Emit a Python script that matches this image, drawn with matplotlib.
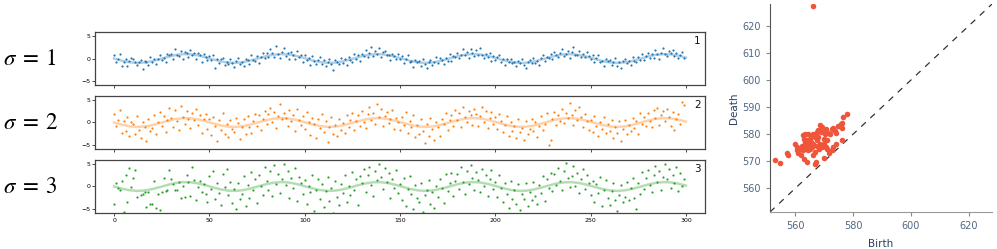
import numpy as np
import matplotlib
matplotlib.use("Agg")
import matplotlib.pyplot as plt

plt.rcParams['mathtext.fontset'] = 'stix'

# smooth underlying signal, read every 4 steps
curve_x = list(range(0, 301, 4))
curve_y = [0.0, -0.48, -0.84, -1.0, -0.91, -0.6, -0.14, 0.35, 0.76, 0.98,
           0.96, 0.71, 0.28, -0.22, -0.66, -0.94, -0.99, -0.8, -0.41, 0.08,
           0.54, 0.88, 1.0, 0.88, 0.54, 0.07, -0.42, -0.8, -0.99, -0.94,
           -0.65, -0.21, 0.29, 0.71, 0.96, 0.98, 0.75, 0.34, -0.15, -0.61,
           -0.91, -1.0, -0.84, -0.47, 0.01, 0.49, 0.85, 1.0, 0.91, 0.59,
           0.13, -0.36, -0.76, -0.98, -0.96, -0.7, -0.27, 0.22, 0.66, 0.94,
           0.99, 0.79, 0.4, -0.08, -0.55, -0.88, -1.0, -0.87, -0.53, -0.06,
           0.43, 0.81, 0.99, 0.93, 0.64, 0.2]

# noisy samples, one per step
noisy_1 = [0.8, -0.7, 0.0, 1.0, -1.7, -0.9, -0.2, -1.7, -0.6, 0.2,
           -0.1, -0.9, -1.4, -0.8, -0.3, -2.3, -0.5, -0.9, -1.4, 0.3,
           -0.8, 0.0, -1.3, 0.0, 0.7, -0.4, 0.2, -0.8, 1.0, 0.7,
           1.0, 0.0, 2.1, 0.8, 0.6, 1.8, -0.1, 1.5, 1.2, 0.4,
           2.0, 0.7, 1.2, 0.0, 1.3, 0.7, -0.9, 1.1, 0.3, -0.3,
           0.6, -0.4, 0.7, -2.2, -0.2, -1.0, -0.2, 0.2, -1.5, -0.8,
           -1.3, -0.2, -1.0, -2.0, -0.5, 0.2, -1.2, -0.7, -1.7, -0.1,
           -0.3, -1.3, 0.7, -0.3, -0.6, 0.6, -1.1, 0.4, 1.2, 0.1,
           1.3, 0.4, 2.1, 1.2, 0.3, 2.9, 1.1, 0.1, 1.5, 2.3,
           0.5, 1.2, -0.1, 1.4, 0.9, 0.0, 1.6, 0.3, 0.8, -0.7,
           0.8, -0.4, 0.1, -1.4, 0.5, -0.5, -1.2, -0.3, 0.4, -1.2,
           -0.4, -1.8, -0.7, 0.0, -1.2, -2.5, -0.4, -0.8, -1.3, 0.2,
           -1.0, -0.2, -1.5, 0.4, -0.3, -0.7, 1.1, -0.1, 0.8, -0.5,
           1.1, 0.5, 1.9, 0.3, 1.2, 2.5, 0.6, 1.8, 1.0, 2.4,
           0.3, 1.4, 1.8, 0.7, 0.9, -0.3, 1.1, 0.5, -0.2, 1.1,
           -0.2, 0.6, -1.0, 0.0, 0.7, -0.9, -0.5, -2.0, -0.3, -0.9,
           -0.5, -1.6, -0.1, -1.2, -2.2, -0.7, -0.3, -1.4, -0.9, 0.3,
           -1.1, 0.2, -0.3, -1.3, 0.2, -0.5, 1.0, -0.5, 0.5, 0.4,
           1.2, 0.1, 0.9, 2.1, 0.7, 1.4, 0.2, 2.1, 1.3, 0.6,
           1.9, 0.8, 2.4, 0.9, 0.2, 1.1, 0.3, 1.3, -0.6, 0.5,
           -0.3, 0.4, 0.9, -0.9, -0.2, -1.5, -0.2, -0.7, -0.1, -1.1,
           -0.7, -1.6, -0.5, -1.1, 0.0, -1.4, -2.2, -0.7, -0.3, -1.0,
           0.1, -1.0, -0.5, -1.4, 0.1, 0.9, -0.6, 0.3, 0.1, 1.0,
           -0.2, 1.5, 0.8, 0.4, 1.3, 2.1, 0.5, 1.1, 1.7, 0.1,
           1.4, 2.6, 0.7, 0.9, 1.7, 0.3, 1.0, 0.4, 1.5, 0.5,
           -0.2, 0.7, -0.8, 0.1, 0.7, -0.7, -0.5, -1.6, -0.2, -0.5,
           -0.3, -1.4, -0.9, 0.2, -1.7, -0.7, -2.1, -0.6, -0.1, -1.1,
           -0.5, -1.5, 0.3, -0.5, -0.8, 0.4, -0.4, 1.0, -0.4, 0.5,
           1.2, 0.2, 1.1, 0.1, 1.9, 1.0, 0.0, 1.3, 2.3, 1.0,
           0.6, 1.7, 1.2, 1.9, 0.6, 1.3, 0.1, 0.7, 1.4, 0.2]

noisy_2 = [1.9, -0.8, 0.6, 2.8, -2.3, 0.4, -1.9, 1.2, -3.1, 0.1,
           -0.4, -2.6, 1.5, -1.8, -3.4, 0.2, -1.1, -4.2, 0.9, -2.0,
           -1.3, 1.8, -2.7, 0.0, 2.3, -0.9, 1.4, -2.1, 0.6, 3.2,
           1.1, -1.0, 2.9, 0.4, -1.6, 3.7, 1.2, -0.3, 2.5, 0.8,
           -1.2, 2.2, 0.5, 3.1, -0.6, 1.7, -2.4, 0.9, 2.0, -1.5,
           0.7, -2.9, 1.3, -0.8, -4.1, 0.5, -1.7, 2.1, -2.5, -0.3,
           -3.3, 0.6, -1.4, -2.2, 1.0, -0.2, -3.8, -1.0, 0.8, -2.6,
           1.4, -1.1, -2.4, 0.3, 2.0, -0.7, 1.6, -1.8, 0.9, 2.7,
           -0.4, 1.9, 3.3, 0.2, 2.4, -1.3, 1.5, 4.1, 0.7, 2.1,
           1.0, -0.9, 2.8, 0.3, 1.7, -1.9, 3.0, 0.5, -0.6, 1.4,
           -1.5, 2.3, 0.1, -2.8, 1.1, -0.4, -3.6, 0.7, -1.2, 2.0,
           -2.1, 0.4, -4.4, -1.0, 1.3, -2.7, -0.5, -3.1, 0.9, -1.6,
           -0.2, -2.4, 1.6, -1.1, 0.5, 2.2, -1.8, 0.3, 1.8, -0.7,
           2.6, 0.1, -1.3, 1.9, 3.5, 0.6, 2.2, -0.4, 4.2, 1.3,
           3.0, -0.8, 1.5, 2.3, -0.2, 0.9, 2.8, -1.4, 1.1, 0.0,
           -1.7, 1.2, -0.5, 2.4, -2.3, 0.3, -1.0, 1.7, -3.2, -0.6,
           -2.5, 0.8, -1.9, -4.6, -0.3, -3.0, 1.1, -1.4, -3.9, 0.2,
           -1.0, -3.1, 0.9, -0.4, 2.1, -1.6, 0.5, 1.8, -0.9, 2.9,
           0.6, 2.2, -1.1, 3.6, 1.2, 0.0, 2.7, 1.6, -0.5, 3.1,
           2.0, -0.7, 1.4, 3.4, 0.2, 2.5, -1.2, 1.0, 2.3, -0.4,
           1.3, -1.5, 2.0, 0.4, -2.2, -0.6, 1.5, -3.0, 0.1, -1.9,
           -0.8, -3.4, 0.7, -2.1, -1.2, -4.0, 0.3, -2.6, -1.5, 0.8,
           -2.0, 0.2, -3.3, -0.9, 1.4, -1.7, -0.3, 2.1, -5.2, -4.0,
           0.9, 2.4, -0.5, 1.6, 0.3, 3.0, -0.2, 2.2, 1.1, 4.4,
           1.7, -0.6, 2.9, 0.5, 3.6, 1.2, -1.0, 2.0, 0.4, -1.8,
           0.6, -2.2, 1.5, -0.7, -3.1, 0.2, -1.5, 1.3, -2.4, -0.4,
           -1.9, 0.5, -3.6, -1.0, -2.3, 0.3, -4.3, -1.4, 0.6, -2.7,
           -0.6, -2.0, 1.0, -1.2, 0.4, -2.5, 2.2, -0.3, 1.3, -0.9,
           2.1, 0.3, -1.1, 2.8, 1.0, 3.3, -0.5, 1.8, 2.6, 0.4,
           3.1, 1.2, -0.8, 2.3, -1.6, 0.9, 2.0, -0.4, 4.6, 3.9]

noisy_3 = [-3.9, 0.9, -0.4, -0.9, 1.3, -5.8, 2.7, -3.6, 4.1, -0.1,
           2.0, 3.8, -2.3, -6.2, -1.9, -1.8, -1.3, -4.7, -1.2, -4.0,
           -3.9, 1.2, -4.9, -1.6, -5.3, -1.3, 2.0, -1.0, -0.7, 3.8,
           1.8, 0.6, -0.9, -0.9, 1.0, -2.7, 0.2, -2.4, 2.7, 1.0,
           -2.2, 4.5, 1.5, -3.1, -0.2, 1.2, -1.3, 0.5, -1.6, -3.4,
           2.4, -0.6, 3.6, -2.8, 0.9, -1.5, -4.1, 2.8, -0.2, 3.9,
           -2.0, 1.1, -3.7, -0.5, -5.1, 0.8, -2.9, -1.6, 2.3, -4.4,
           0.4, -2.5, 3.2, -0.8, 1.6, -3.8, 2.5, 0.0, -1.9, 4.3,
           1.2, -0.9, 3.5, -2.2, 4.8, 0.6, 2.9, -1.4, 1.8, 5.1,
           0.3, 3.6, -2.6, 1.9, -0.4, 4.2, -3.3, 2.2, 0.7, -1.8,
           1.5, -3.9, 0.2, -1.3, 2.6, -5.5, -0.8, 1.7, -2.8, 0.5,
           -4.6, -1.0, 2.1, -3.2, -0.3, -6.0, 1.3, -2.4, -4.1, 0.6,
           -1.5, 2.6, -3.5, 0.1, -2.0, 3.3, -0.9, 1.8, -4.2, 2.4,
           0.8, 3.9, -1.2, 2.7, 4.5, 0.3, -2.1, 3.4, 1.5, 5.0,
           2.2, -0.6, 4.1, 1.0, 3.0, -2.5, 1.7, -0.3, 3.8, -1.4,
           0.6, -3.1, 1.9, -4.4, -0.5, 2.3, -1.8, -5.0, 0.4, -2.6,
           -3.5, 0.9, -5.7, -2.0, -0.7, 1.4, -3.9, -1.3, -4.8, 0.2,
           -2.3, 1.6, -0.4, -3.7, 2.8, -1.0, 0.8, 3.1, -2.2, 1.3,
           2.9, -0.5, 4.4, 1.1, -1.7, 3.5, 0.6, 4.9, 2.0, -0.9,
           3.3, 1.4, -1.2, 4.0, 0.2, 2.6, -2.1, 1.8, 3.7, -0.6,
           1.0, -2.4, 2.5, -0.3, -3.6, 0.7, -1.6, -4.9, 1.2, -2.8,
           -0.9, -3.9, 0.5, -5.3, -1.8, -2.9, 0.9, -4.4, -1.2, -3.1,
           1.1, -2.2, -4.0, 0.3, -1.5, 2.4, -3.3, 1.6, -0.4, 3.0,
           -1.1, 2.8, 0.4, 4.2, 1.3, -0.8, 3.6, 5.3, 1.9, -0.2,
           2.4, 4.6, 0.1, 3.1, -1.5, 1.8, 4.0, -0.6, 2.7, 0.9,
           -2.0, 1.2, -3.4, 0.5, -1.4, 2.2, -4.5, -0.7, 1.5, -2.6,
           -4.2, -1.0, 0.7, -3.0, -5.6, -1.9, 0.4, -3.6, -2.3, 1.0,
           -3.0, -0.3, 2.0, -2.7, -5.1, 0.9, -1.6, 3.2, -0.5, 1.9,
           3.8, 0.4, -1.3, 2.5, 4.7, 1.0, 3.4, -0.8, 2.2, 5.2,
           1.6, 3.9, -0.4, 2.7, 0.8, 4.5, -1.1, 3.0, 0.0, 1.8]

series = [noisy_1, noisy_2, noisy_3]
sigmas = [1, 2, 3]
colors = ['#1f77b4', '#ff7f0e', '#2ca02c']

# persistence diagram points
birth = [566.0, 552.9, 554.8, 557.1, 557.4, 560.0, 560.8, 561.1, 562.1, 562.6,
         563.1, 564.0, 562.6, 563.4, 564.6, 564.0, 563.4, 564.6, 565.2, 565.7,
         566.3, 566.9, 567.5, 568.0, 568.6, 569.2, 569.0, 570.0, 570.3, 570.7,
         571.5, 572.6, 573.4, 574.1, 574.9, 575.8, 576.2, 576.6, 578.0, 576.3,
         576.1, 574.1, 573.2, 572.6, 571.8, 570.9, 570.1, 569.2, 568.4, 567.7,
         566.9, 566.3, 567.2, 567.0, 565.7, 565.2, 564.6, 564.0, 563.4, 562.9,
         565.4, 566.1, 567.5, 568.0, 569.8, 571.1, 572.0, 573.0, 573.8, 575.3,
         569.8, 568.6, 570.7, 561.7, 562.3, 560.8]
death = [627.3, 570.4, 569.2, 573.1, 572.5, 576.3, 574.1, 573.1, 572.2, 574.1,
         571.0, 569.7, 579.6, 580.2, 580.2, 577.8, 575.9, 576.5, 578.4, 579.6,
         580.2, 579.0, 580.8, 581.4, 583.3, 582.7, 580.8, 580.8, 580.2, 582.0,
         580.4, 582.0, 581.4, 580.4, 582.9, 583.6, 584.2, 586.3, 587.3, 582.4,
         577.8, 576.5, 575.3, 574.1, 573.1, 574.7, 571.4, 575.3, 574.7, 575.6,
         573.5, 572.2, 569.8, 568.9, 575.3, 574.7, 574.1, 575.1, 577.0, 578.4,
         577.1, 576.5, 577.8, 579.0, 578.4, 577.8, 579.9, 582.2, 581.2, 582.9,
         576.3, 576.3, 575.3, 574.7, 575.6, 575.3]

fig = plt.figure(figsize=(9.97, 2.49), dpi=100)

bottoms = [0.6586, 0.4016, 0.1446]
for i in range(3):
    ax = fig.add_axes([0.0953, bottoms[i], 0.6118, 0.2129])
    ax.scatter(range(len(series[i])), series[i], s=2.5, color=colors[i], linewidths=0)
    ax.plot(curve_x, curve_y, color=colors[i], alpha=0.35, lw=1.8)
    ax.set_xlim(-10, 310)
    ax.set_ylim(-6, 6)
    ax.set_yticks([-5, 0, 5])
    ax.set_xticks(range(0, 301, 50))
    ax.tick_params(labelsize=4.5, length=2, width=0.5, pad=1.5)
    if i < 2:
        ax.tick_params(labelbottom=False)
    for sp in ax.spines.values():
        sp.set_color('#444444')
        sp.set_linewidth(0.9)
    ax.text(0.993, 0.92, str(i + 1), transform=ax.transAxes, ha='right', va='top',
            fontsize=7.5, color='#111111')
    fig.text(0.003, bottoms[i] + 0.2129 / 2, r'$\sigma\;=\;%d$' % sigmas[i],
             fontsize=16.5, ha='left', va='center')

# persistence diagram
pax = fig.add_axes([0.7723, 0.1486, 0.2227, 0.835])
lo, hi = 551.3, 628.0
pax.plot([lo, hi], [lo, hi], ls=(0, (5, 5)), color='#333333', lw=0.9)
pax.scatter(birth, death, s=16, color='#EF553B', linewidths=0, zorder=3)
pax.set_xlim(lo, hi)
pax.set_ylim(lo, hi)
pax.set_xticks([560, 580, 600, 620])
pax.set_yticks([560, 570, 580, 590, 600, 610, 620])
pax.tick_params(labelsize=7, colors='#888888', labelcolor='#506784', length=3, width=0.8)
pax.spines['top'].set_visible(False)
pax.spines['right'].set_visible(False)
pax.spines['left'].set_color('#555555')
pax.spines['bottom'].set_color('#999999')
pax.set_xlabel('Birth', fontsize=7.5, color='#2a3f5f', labelpad=6)
pax.set_ylabel('Death', fontsize=7.5, color='#2a3f5f', labelpad=2.5)

fig.savefig('out.png', dpi=100)
